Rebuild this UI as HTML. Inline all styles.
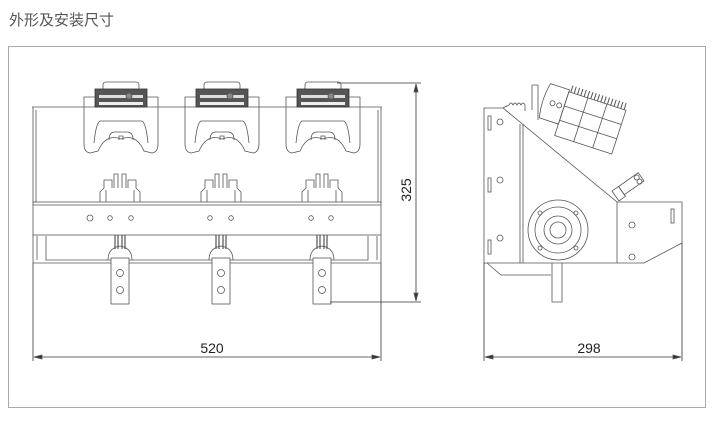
<!DOCTYPE html>
<html><head><meta charset="utf-8"><style>
html,body{margin:0;padding:0;background:#fff;width:720px;height:421px;overflow:hidden}
.t{position:absolute;left:9px;top:9px;font:15px "Liberation Sans","Noto Sans CJK SC",sans-serif;color:#555}
.f{position:absolute;left:8px;top:46px;width:698px;height:362px;border:1px solid #aaa;box-sizing:border-box}
svg{position:absolute;left:0;top:0}
</style></head><body>
<div class="t">外形及安装尺寸</div>
<div class="f"></div>
<svg width="720" height="421" viewBox="0 0 720 421" fill="none" stroke="#555" stroke-width="0.8" font-family="Liberation Sans, sans-serif">
<defs>
<g id="clamp">
 <path d="M-18,91 v-6 q0,-3 3,-3 h30 q3,0 3,3 v6"/>
 <rect x="-26" y="89" width="52" height="18" fill="#555" stroke="#333"/>
 <rect x="-22" y="95" width="44" height="3" fill="#ddd" stroke="none"/>
 <rect x="-22" y="102" width="44" height="3" fill="#eee" stroke="none"/>
 <circle cx="8" cy="96" r="3" fill="#888"/>
 <path d="M-37,107 v-10 h11 M37,107 v-10 h-11"/>
 <path d="M-37,107 v37 q0,8 6,9 l8,-2 q8,-18 23,-12 q15,-6 23,12 l8,2 q6,-1 6,-9 v-37"/>
 <path d="M-27,143 q2,-20 6,-22 h42 q4,2 6,22"/>
 <path d="M-12,140 q0,-8 6,-8 h12 q6,0 6,8"/>
 <path d="M-2,140 v-4 h4 v4"/>
</g>
<g id="brk">
 <path d="M-20,202 v-10 l4,-4 v-8 h8 v8 M20,202 v-10 l-4,-4 v-8 h-8 v8"/>
 <path d="M-6,188 v-14 h4 v14 M2,188 v-14 h4 v14"/>
 <path d="M-14,202 v-12 M14,202 v-12"/>
</g>
<g id="hng">
 <path d="M-5,235 v14 M-2,235 v14 M2,235 v14 M5,235 v14" stroke-width="1.2"/>
 <path d="M-12,260 q0,-12 12,-14 q12,2 12,14"/>
 <rect x="-9" y="258" width="18" height="46" fill="#fff"/>
 <circle cx="0" cy="273" r="3.5"/><circle cx="0" cy="290" r="3.5"/>
</g>
</defs>
<!-- LEFT VIEW -->
<path d="M32,107 H382 M33,107 v96 M381,107 v96"/>
<path d="M36,110 v92 M378,110 v92"/>
<rect x="33" y="202" width="348" height="33"/>
<line x1="33" y1="205" x2="381" y2="205"/>
<path d="M33,235 v28 M381,235 v28 M46,236 v24 h322 v-24 M33,263 h348" />
<path d="M37,236 v24 M377,236 v24"/>
<use href="#clamp" x="121"/><use href="#clamp" x="222"/><use href="#clamp" x="323"/>
<use href="#brk" x="120"/><use href="#brk" x="221"/><use href="#brk" x="322"/>
<g fill="#fff">
<circle cx="90" cy="218" r="3"/><circle cx="110" cy="218" r="2.3"/><circle cx="131" cy="218" r="2.3"/>
<circle cx="210" cy="218" r="2.3"/><circle cx="231" cy="218" r="2.3"/>
<circle cx="311" cy="218" r="2.3"/><circle cx="331" cy="218" r="2.3"/>
</g>
<use href="#hng" x="120"/><use href="#hng" x="221"/><use href="#hng" x="322"/>
<!-- dims left -->
<path d="M33,263 V361 M381,263 V361" stroke="#333"/>
<path d="M34,357 H380" stroke="#333"/>
<path d="M34,357 l8,-2 v4z M380,357 l-8,-2 v4z" fill="#333"/>
<text x="212" y="353" font-size="14" fill="#222" stroke="none" text-anchor="middle">520</text>
<path d="M337,83 H421 M330,302 H421" stroke="#333"/>
<path d="M416,84 V301" stroke="#333"/>
<path d="M416,84 l-2,8 h4z M416,301 l-2,-8 h4z" fill="#333"/>
<text x="0" y="0" font-size="14" fill="#222" stroke="none" text-anchor="middle" transform="translate(411,190) rotate(-90)">325</text>
<!-- RIGHT VIEW -->
<path d="M484,108 H503 L617,202 H682 V243 L644,263 H484 Z"/>
<path d="M503,108 l6,-3 q2,-4 4,0 q2,-4 4,0 q2,-4 4,0 q2,-4 4,0 v6"/>
<path d="M532,85 v25 M538,85 v35 M532,85 h6"/>
<path d="M520,124 V263 M523,124 V263 M617,202 V263"/>
<rect x="488" y="116" width="3" height="14"/><rect x="488" y="178" width="3" height="14"/><rect x="488" y="240" width="3" height="14"/>
<circle cx="500" cy="122" r="3"/><circle cx="500" cy="180" r="3"/><circle cx="500" cy="238" r="3"/>
<rect x="671" y="209" width="3" height="14"/><circle cx="632" cy="225" r="3"/><circle cx="632" cy="257" r="3"/>
<circle cx="558" cy="230" r="30"/><circle cx="558" cy="230" r="23"/><circle cx="558" cy="230" r="14"/>
<circle cx="558" cy="230" r="8"/>
<circle cx="540" cy="213" r="2"/><circle cx="576" cy="213" r="2"/><circle cx="540" cy="248" r="2"/><circle cx="576" cy="248" r="2"/>
<path d="M487,263 l14,12 h50 M552,263 V302 h10 V263"/>
<!-- light assembly -->
<g transform="translate(562,100) rotate(18)">
 <path d="M-16,-12 h20 v36 h-20 q-4,-18 0,-36z"/>
 <circle cx="-8" cy="6" r="2.5"/><circle cx="-1" cy="6" r="2.5"/>
 <rect x="4" y="-10" width="60" height="46"/>
 <path d="M4,5 h60 M4,20 h60 M24,-10 v46 M44,-10 v46"/>
 <path d="M6,-10 v-7 M9.5,-10 v-7 M13,-10 v-7 M16.5,-10 v-7 M20,-10 v-7 M23.5,-10 v-7 M27,-10 v-7 M30.5,-10 v-7 M34,-10 v-7 M37.5,-10 v-7 M41,-10 v-7 M44.5,-10 v-7 M48,-10 v-7 M51.5,-10 v-7 M55,-10 v-7 M58.5,-10 v-7 M62,-10 v-7" stroke-width="1"/>
</g>
<g transform="translate(628,186) rotate(-35)">
 <rect x="-8" y="-5" width="24" height="10"/><circle cx="12" cy="-2" r="2.5"/><circle cx="12" cy="3" r="2.5"/>
 <path d="M-16,-5 h8 v12 h-8z"/>
</g>
<!-- dims right -->
<path d="M484,263 V361 M682,243 V361" stroke="#333"/>
<path d="M485,357 H681" stroke="#333"/>
<path d="M485,357 l8,-2 v4z M681,357 l-8,-2 v4z" fill="#333"/>
<text x="589" y="353" font-size="14" fill="#222" stroke="none" text-anchor="middle">298</text>
</svg>
</body></html>
